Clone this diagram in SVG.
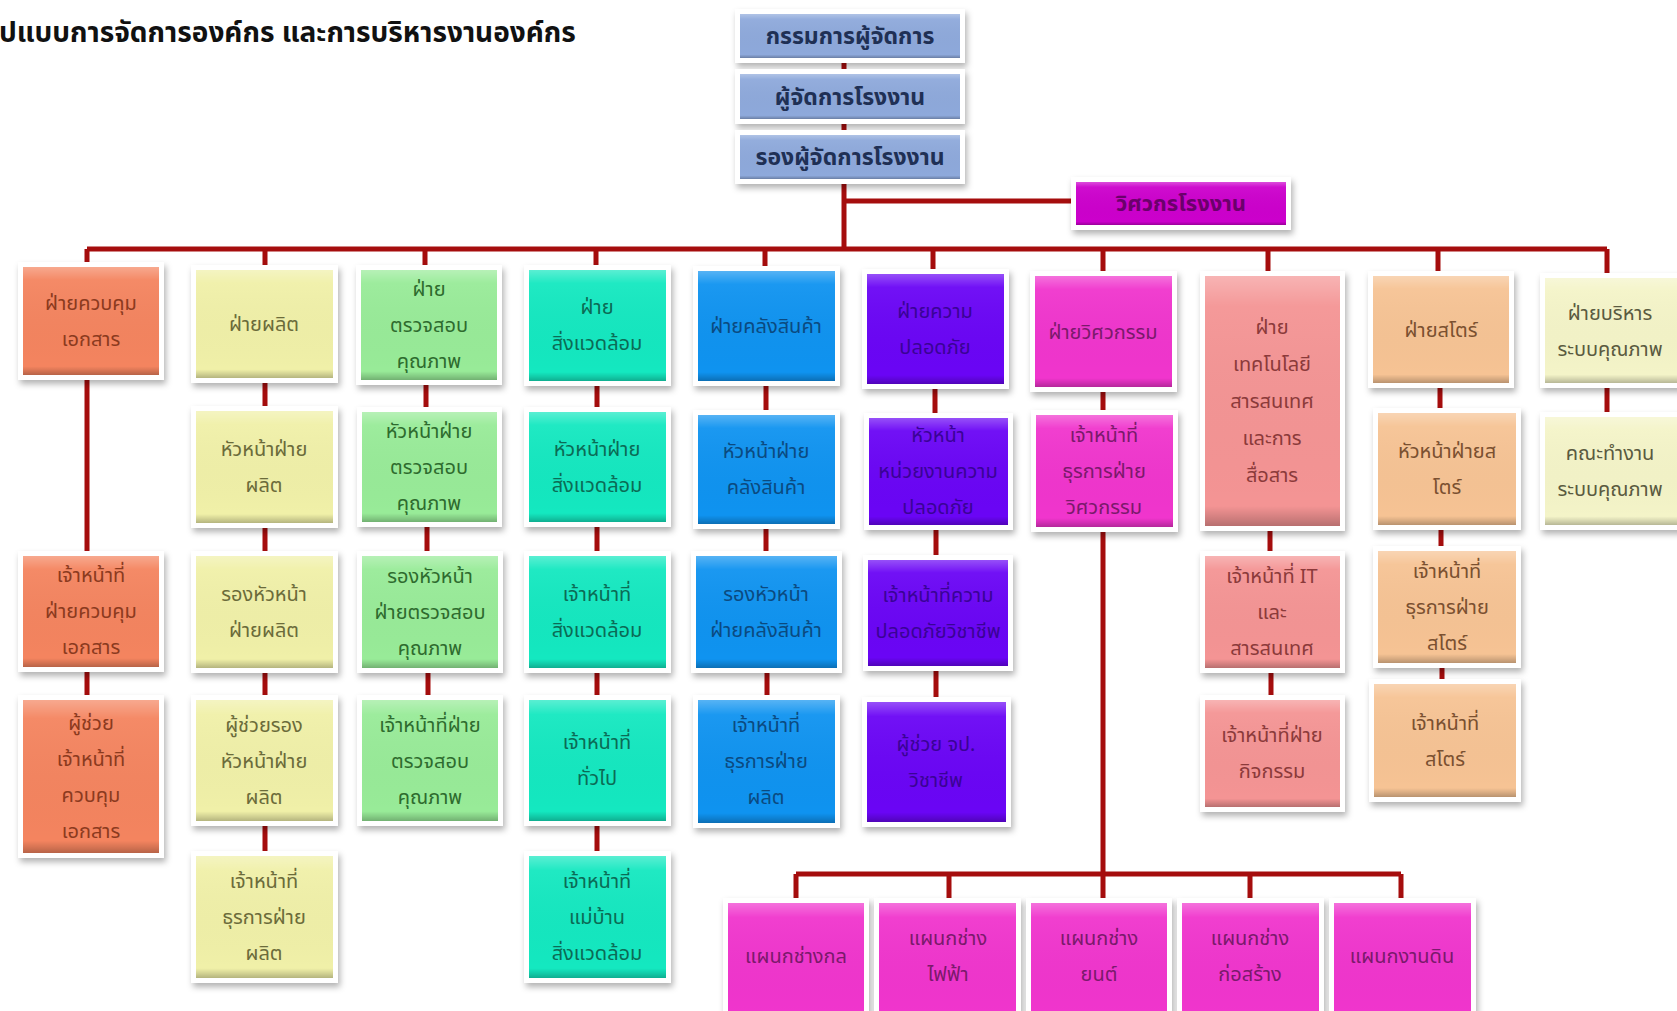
<svg xmlns="http://www.w3.org/2000/svg" width="1677" height="1011" viewBox="0 0 1677 1011">
<defs>
<filter id="sh" x="-20%" y="-20%" width="140%" height="140%">
<feDropShadow dx="2" dy="4" stdDeviation="3" flood-color="#000" flood-opacity="0.3"/>
</filter>
<linearGradient id="shade" x1="0" y1="0" x2="0" y2="1">
<stop offset="0" stop-color="#fff" stop-opacity="0.3"/>
<stop offset="0.12" stop-color="#fff" stop-opacity="0.05"/>
<stop offset="0.92" stop-color="#000" stop-opacity="0"/>
<stop offset="0.96" stop-color="#000" stop-opacity="0.12"/>
<stop offset="1" stop-color="#000" stop-opacity="0.25"/>
</linearGradient>
</defs>
<style>
text{font-family:"Noto Sans Thai","Noto Sans Thai UI",Tahoma,"Leelawadee UI",Loma,Garuda,"Noto Sans","DejaVu Sans",sans-serif;font-size:20px;text-anchor:middle}
.frame{fill:#fff;filter:url(#sh)}
.shade{fill:url(#shade)}
.conn{stroke:#A50D0D;stroke-width:5;fill:none}
.top .fill{fill:#8EA9DB}.top text{fill:#1F3055;font-weight:bold;font-size:23px}
.eng .fill{fill:#CC00CC}.eng text{fill:#6B006B;font-weight:bold;font-size:22px}
.c1 .fill{fill:#F4845F}.c1 text{fill:#8B3A1E}
.c2 .fill{fill:#F0F0A8}.c2 text{fill:#6B6B3A}
.c3 .fill{fill:#98EB98}.c3 text{fill:#2E6B2E}
.c4 .fill{fill:#14E8C0}.c4 text{fill:#0B6B55}
.c5 .fill{fill:#0F93F0}.c5 text{fill:#0B4A80}
.c6 .fill{fill:#6A05F5}.c6 text{fill:#3A0395}
.c7 .fill{fill:#F035CD}.c7 text{fill:#7A1A6B}
.c8 .fill{fill:#F49494}.c8 text{fill:#8B3A3A}
.c9 .fill{fill:#F6C394}.c9 text{fill:#7A5030}
.c10 .fill{fill:#F4F4C8}.c10 text{fill:#5A5A40}
.title{font-weight:bold;font-size:28px;text-anchor:start;fill:#111}
</style>
<rect width="1677" height="1011" fill="#fff"/>
<text class="title" x="-1" y="42">ปแบบการจัดการองค์กร และการบริหารงานองค์กร</text>

<g id="connectors">
<path class="conn" stroke="#6B1A1A" d="M844 58V74M844 119V135"/>
<path class="conn" d="M844 179V249M844 201H1076M87 249H1607"/>
<path class="conn" d="M87 249V267M265 249V270M425 249V270M596 249V270M765 249V271M933 249V274M1103 249V276M1268 249V276M1438 249V276M1607 249V278"/>
<path class="conn" d="M87 375V556M87 667V700"/>
<path class="conn" d="M265 378V411M265 523V556M265 668V700M265 821V856"/>
<path class="conn" d="M426 380V412M427 522V556M428 668V700"/>
<path class="conn" d="M597 381V412M597 522V556M597 668V700M597 821V856"/>
<path class="conn" d="M766 381V415M766 524V556M767 668V700"/>
<path class="conn" d="M935 384V418M936 525V560M936 666V702"/>
<path class="conn" d="M1103 387V415M1103 527V874"/>
<path class="conn" d="M1270 526V556M1271 668V700"/>
<path class="conn" d="M1440 383V413M1441 525V551M1442 663V684"/>
<path class="conn" d="M1607 383V417"/>
<path class="conn" d="M796 874H1401M796 874V903M949 874V903M1250 874V903M1401 874V903M1103 874V903"/>
</g>

<g id="n-md" class="top"><rect class="frame" x="735" y="9" width="230" height="54"/><rect class="fill" x="740" y="14" width="220" height="44"/><rect class="shade" x="740" y="14" width="220" height="44"/><text x="850" y="44">กรรมการผู้จัดการ</text></g>
<g id="n-fm" class="top"><rect class="frame" x="735" y="69" width="230" height="55"/><rect class="fill" x="740" y="74" width="220" height="45"/><rect class="shade" x="740" y="74" width="220" height="45"/><text x="850" y="105">ผู้จัดการโรงงาน</text></g>
<g id="n-afm" class="top"><rect class="frame" x="735" y="130" width="230" height="54"/><rect class="fill" x="740" y="135" width="220" height="44"/><rect class="shade" x="740" y="135" width="220" height="44"/><text x="850" y="165">รองผู้จัดการโรงงาน</text></g>
<g id="n-eng" class="eng"><rect class="frame" x="1071" y="177" width="220" height="53"/><rect class="fill" x="1076" y="182" width="210" height="43"/><rect class="shade" x="1076" y="182" width="210" height="43"/><text x="1181" y="211">วิศวกรโรงงาน</text></g>

<g id="c1r1" class="c1"><rect class="frame" x="18" y="262" width="146" height="118"/><rect class="fill" x="23" y="267" width="136" height="108"/><rect class="shade" x="23" y="267" width="136" height="108"/><text x="91" y="310">ฝ่ายควบคุม</text><text x="91" y="346">เอกสาร</text></g>
<g id="c1r3" class="c1"><rect class="frame" x="18" y="551" width="146" height="121"/><rect class="fill" x="23" y="556" width="136" height="111"/><rect class="shade" x="23" y="556" width="136" height="111"/><text x="91" y="582">เจ้าหน้าที่</text><text x="91" y="618">ฝ่ายควบคุม</text><text x="91" y="654">เอกสาร</text></g>
<g id="c1r4" class="c1"><rect class="frame" x="18" y="695" width="146" height="163"/><rect class="fill" x="23" y="700" width="136" height="153"/><rect class="shade" x="23" y="700" width="136" height="153"/><text x="91" y="730">ผู้ช่วย</text><text x="91" y="766">เจ้าหน้าที่</text><text x="91" y="802">ควบคุม</text><text x="91" y="838">เอกสาร</text></g>

<g id="c2r1" class="c2"><rect class="frame" x="191" y="265" width="147" height="118"/><rect class="fill" x="196" y="270" width="137" height="108"/><rect class="shade" x="196" y="270" width="137" height="108"/><text x="264" y="331">ฝ่ายผลิต</text></g>
<g id="c2r2" class="c2"><rect class="frame" x="191" y="406" width="147" height="122"/><rect class="fill" x="196" y="411" width="137" height="112"/><rect class="shade" x="196" y="411" width="137" height="112"/><text x="264" y="456">หัวหน้าฝ่าย</text><text x="264" y="492">ผลิต</text></g>
<g id="c2r3" class="c2"><rect class="frame" x="191" y="551" width="147" height="122"/><rect class="fill" x="196" y="556" width="137" height="112"/><rect class="shade" x="196" y="556" width="137" height="112"/><text x="264" y="601">รองหัวหน้า</text><text x="264" y="637">ฝ่ายผลิต</text></g>
<g id="c2r4" class="c2"><rect class="frame" x="191" y="695" width="147" height="131"/><rect class="fill" x="196" y="700" width="137" height="121"/><rect class="shade" x="196" y="700" width="137" height="121"/><text x="264" y="732">ผู้ช่วยรอง</text><text x="264" y="768">หัวหน้าฝ่าย</text><text x="264" y="804">ผลิต</text></g>
<g id="c2r5" class="c2"><rect class="frame" x="191" y="851" width="147" height="132"/><rect class="fill" x="196" y="856" width="137" height="122"/><rect class="shade" x="196" y="856" width="137" height="122"/><text x="264" y="888">เจ้าหน้าที่</text><text x="264" y="924">ธุรการฝ่าย</text><text x="264" y="960">ผลิต</text></g>

<g id="c3r1" class="c3"><rect class="frame" x="356" y="265" width="146" height="120"/><rect class="fill" x="361" y="270" width="136" height="110"/><rect class="shade" x="361" y="270" width="136" height="110"/><text x="429" y="296">ฝ่าย</text><text x="429" y="332">ตรวจสอบ</text><text x="429" y="368">คุณภาพ</text></g>
<g id="c3r2" class="c3"><rect class="frame" x="357" y="407" width="145" height="120"/><rect class="fill" x="362" y="412" width="135" height="110"/><rect class="shade" x="362" y="412" width="135" height="110"/><text x="429" y="438">หัวหน้าฝ่าย</text><text x="429" y="474">ตรวจสอบ</text><text x="429" y="510">คุณภาพ</text></g>
<g id="c3r3" class="c3"><rect class="frame" x="357" y="551" width="146" height="122"/><rect class="fill" x="362" y="556" width="136" height="112"/><rect class="shade" x="362" y="556" width="136" height="112"/><text x="430" y="583">รองหัวหน้า</text><text x="430" y="619">ฝ่ายตรวจสอบ</text><text x="430" y="655">คุณภาพ</text></g>
<g id="c3r4" class="c3"><rect class="frame" x="357" y="695" width="146" height="131"/><rect class="fill" x="362" y="700" width="136" height="121"/><rect class="shade" x="362" y="700" width="136" height="121"/><text x="430" y="732">เจ้าหน้าที่ฝ่าย</text><text x="430" y="768">ตรวจสอบ</text><text x="430" y="804">คุณภาพ</text></g>

<g id="c4r1" class="c4"><rect class="frame" x="524" y="265" width="147" height="121"/><rect class="fill" x="529" y="270" width="137" height="111"/><rect class="shade" x="529" y="270" width="137" height="111"/><text x="597" y="314">ฝ่าย</text><text x="597" y="350">สิ่งแวดล้อม</text></g>
<g id="c4r2" class="c4"><rect class="frame" x="524" y="407" width="147" height="120"/><rect class="fill" x="529" y="412" width="137" height="110"/><rect class="shade" x="529" y="412" width="137" height="110"/><text x="597" y="456">หัวหน้าฝ่าย</text><text x="597" y="492">สิ่งแวดล้อม</text></g>
<g id="c4r3" class="c4"><rect class="frame" x="524" y="551" width="147" height="122"/><rect class="fill" x="529" y="556" width="137" height="112"/><rect class="shade" x="529" y="556" width="137" height="112"/><text x="597" y="601">เจ้าหน้าที่</text><text x="597" y="637">สิ่งแวดล้อม</text></g>
<g id="c4r4" class="c4"><rect class="frame" x="524" y="695" width="147" height="131"/><rect class="fill" x="529" y="700" width="137" height="121"/><rect class="shade" x="529" y="700" width="137" height="121"/><text x="597" y="749">เจ้าหน้าที่</text><text x="597" y="785">ทั่วไป</text></g>
<g id="c4r5" class="c4"><rect class="frame" x="524" y="851" width="147" height="132"/><rect class="fill" x="529" y="856" width="137" height="122"/><rect class="shade" x="529" y="856" width="137" height="122"/><text x="597" y="888">เจ้าหน้าที่</text><text x="597" y="924">แม่บ้าน</text><text x="597" y="960">สิ่งแวดล้อม</text></g>

<g id="c5r1" class="c5"><rect class="frame" x="693" y="266" width="147" height="120"/><rect class="fill" x="698" y="271" width="137" height="110"/><rect class="shade" x="698" y="271" width="137" height="110"/><text x="766" y="333">ฝ่ายคลังสินค้า</text></g>
<g id="c5r2" class="c5"><rect class="frame" x="693" y="410" width="147" height="119"/><rect class="fill" x="698" y="415" width="137" height="109"/><rect class="shade" x="698" y="415" width="137" height="109"/><text x="766" y="458">หัวหน้าฝ่าย</text><text x="766" y="494">คลังสินค้า</text></g>
<g id="c5r3" class="c5"><rect class="frame" x="691" y="551" width="151" height="122"/><rect class="fill" x="696" y="556" width="141" height="112"/><rect class="shade" x="696" y="556" width="141" height="112"/><text x="766" y="601">รองหัวหน้า</text><text x="766" y="637">ฝ่ายคลังสินค้า</text></g>
<g id="c5r4" class="c5"><rect class="frame" x="693" y="695" width="147" height="133"/><rect class="fill" x="698" y="700" width="137" height="123"/><rect class="shade" x="698" y="700" width="137" height="123"/><text x="766" y="732">เจ้าหน้าที่</text><text x="766" y="768">ธุรการฝ่าย</text><text x="766" y="804">ผลิต</text></g>

<g id="c6r1" class="c6"><rect class="frame" x="862" y="269" width="147" height="120"/><rect class="fill" x="867" y="274" width="137" height="110"/><rect class="shade" x="867" y="274" width="137" height="110"/><text x="935" y="318">ฝ่ายความ</text><text x="935" y="354">ปลอดภัย</text></g>
<g id="c6r2" class="c6"><rect class="frame" x="864" y="413" width="149" height="117"/><rect class="fill" x="869" y="418" width="139" height="107"/><rect class="shade" x="869" y="418" width="139" height="107"/><text x="938" y="442">หัวหน้า</text><text x="938" y="478">หน่วยงานความ</text><text x="938" y="514">ปลอดภัย</text></g>
<g id="c6r3" class="c6"><rect class="frame" x="863" y="555" width="150" height="116"/><rect class="fill" x="868" y="560" width="140" height="106"/><rect class="shade" x="868" y="560" width="140" height="106"/><text x="938" y="602">เจ้าหน้าที่ความ</text><text x="938" y="638">ปลอดภัยวิชาชีพ</text></g>
<g id="c6r4" class="c6"><rect class="frame" x="862" y="697" width="149" height="130"/><rect class="fill" x="867" y="702" width="139" height="120"/><rect class="shade" x="867" y="702" width="139" height="120"/><text x="936" y="751">ผู้ช่วย จป.</text><text x="936" y="787">วิชาชีพ</text></g>

<g id="c7r1" class="c7"><rect class="frame" x="1030" y="271" width="147" height="121"/><rect class="fill" x="1035" y="276" width="137" height="111"/><rect class="shade" x="1035" y="276" width="137" height="111"/><text x="1103" y="339">ฝ่ายวิศวกรรม</text></g>
<g id="c7r2" class="c7"><rect class="frame" x="1031" y="410" width="147" height="122"/><rect class="fill" x="1036" y="415" width="137" height="112"/><rect class="shade" x="1036" y="415" width="137" height="112"/><text x="1104" y="442">เจ้าหน้าที่</text><text x="1104" y="478">ธุรการฝ่าย</text><text x="1104" y="514">วิศวกรรม</text></g>

<g id="c8r1" class="c8"><rect class="frame" x="1200" y="271" width="145" height="260"/><rect class="fill" x="1205" y="276" width="135" height="250"/><rect class="shade" x="1205" y="276" width="135" height="250"/><text x="1272" y="334">ฝ่าย</text><text x="1272" y="371">เทคโนโลยี</text><text x="1272" y="408">สารสนเทศ</text><text x="1272" y="445">และการ</text><text x="1272" y="482">สื่อสาร</text></g>
<g id="c8r3" class="c8"><rect class="frame" x="1200" y="551" width="145" height="122"/><rect class="fill" x="1205" y="556" width="135" height="112"/><rect class="shade" x="1205" y="556" width="135" height="112"/><text x="1272" y="583">เจ้าหน้าที่ IT</text><text x="1272" y="619">และ</text><text x="1272" y="655">สารสนเทศ</text></g>
<g id="c8r4" class="c8"><rect class="frame" x="1200" y="695" width="145" height="117"/><rect class="fill" x="1205" y="700" width="135" height="107"/><rect class="shade" x="1205" y="700" width="135" height="107"/><text x="1272" y="742">เจ้าหน้าที่ฝ่าย</text><text x="1272" y="778">กิจกรรม</text></g>

<g id="c9r1" class="c9"><rect class="frame" x="1368" y="271" width="146" height="117"/><rect class="fill" x="1373" y="276" width="136" height="107"/><rect class="shade" x="1373" y="276" width="136" height="107"/><text x="1441" y="337">ฝ่ายสโตร์</text></g>
<g id="c9r2" class="c9"><rect class="frame" x="1373" y="408" width="148" height="122"/><rect class="fill" x="1378" y="413" width="138" height="112"/><rect class="shade" x="1378" y="413" width="138" height="112"/><text x="1447" y="458">หัวหน้าฝ่ายส</text><text x="1447" y="494">โตร์</text></g>
<g id="c9r3" class="c9"><rect class="frame" x="1373" y="546" width="148" height="122"/><rect class="fill" x="1378" y="551" width="138" height="112"/><rect class="shade" x="1378" y="551" width="138" height="112"/><text x="1447" y="578">เจ้าหน้าที่</text><text x="1447" y="614">ธุรการฝ่าย</text><text x="1447" y="650">สโตร์</text></g>
<g id="c9r4" class="c9"><rect class="frame" x="1369" y="679" width="152" height="123"/><rect class="fill" x="1374" y="684" width="142" height="113"/><rect class="shade" x="1374" y="684" width="142" height="113"/><text x="1445" y="730">เจ้าหน้าที่</text><text x="1445" y="766">สโตร์</text></g>

<g id="c10r1" class="c10"><rect class="frame" x="1540" y="273" width="150" height="115"/><rect class="fill" x="1545" y="278" width="140" height="105"/><rect class="shade" x="1545" y="278" width="140" height="105"/><text x="1610" y="320">ฝ่ายบริหาร</text><text x="1610" y="356">ระบบคุณภาพ</text></g>
<g id="c10r2" class="c10"><rect class="frame" x="1540" y="412" width="150" height="118"/><rect class="fill" x="1545" y="417" width="140" height="108"/><rect class="shade" x="1545" y="417" width="140" height="108"/><text x="1610" y="460">คณะทำงาน</text><text x="1610" y="496">ระบบคุณภาพ</text></g>

<g id="e1" class="c7"><rect class="frame" x="723" y="898" width="146" height="130"/><rect class="fill" x="728" y="903" width="136" height="120"/><rect class="shade" x="728" y="903" width="136" height="120"/><text x="796" y="963">แผนกช่างกล</text></g>
<g id="e2" class="c7"><rect class="frame" x="874" y="898" width="147" height="130"/><rect class="fill" x="879" y="903" width="137" height="120"/><rect class="shade" x="879" y="903" width="137" height="120"/><text x="948" y="945">แผนกช่าง</text><text x="948" y="981">ไฟฟ้า</text></g>
<g id="e3" class="c7"><rect class="frame" x="1026" y="898" width="146" height="130"/><rect class="fill" x="1031" y="903" width="136" height="120"/><rect class="shade" x="1031" y="903" width="136" height="120"/><text x="1099" y="945">แผนกช่าง</text><text x="1099" y="981">ยนต์</text></g>
<g id="e4" class="c7"><rect class="frame" x="1177" y="898" width="147" height="130"/><rect class="fill" x="1182" y="903" width="137" height="120"/><rect class="shade" x="1182" y="903" width="137" height="120"/><text x="1250" y="945">แผนกช่าง</text><text x="1250" y="981">ก่อสร้าง</text></g>
<g id="e5" class="c7"><rect class="frame" x="1329" y="898" width="147" height="130"/><rect class="fill" x="1334" y="903" width="137" height="120"/><rect class="shade" x="1334" y="903" width="137" height="120"/><text x="1402" y="963">แผนกงานดิน</text></g>
</svg>
